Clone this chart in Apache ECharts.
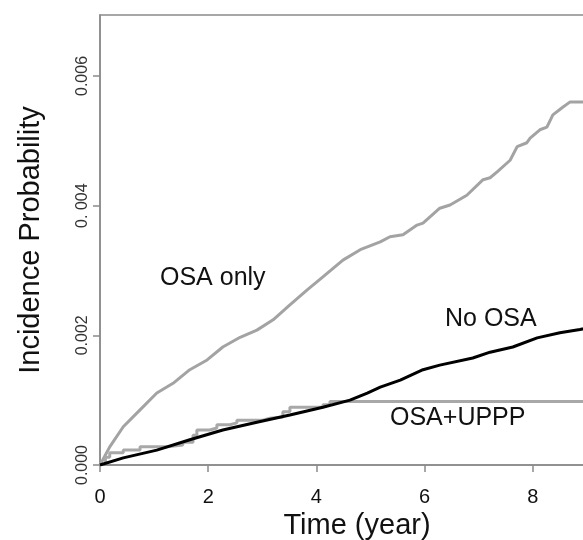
<!DOCTYPE html>
<html>
<head>
<meta charset="utf-8">
<script src="https://cdn.jsdelivr.net/npm/echarts@6/dist/echarts.min.js"></script>
<style>
html,body{margin:0;padding:0;background:#fff;}
#chart{width:583px;height:540px;}
</style>
</head>
<body>
<div id="chart"></div>
<script>
// ---- data ----
var osaOnlyTime = [0,0.03,0.18,0.43,0.74,1.05,1.35,1.66,1.98,2.27,2.59,2.90,3.20,3.51,3.83,4.12,4.49,4.81,5.18,5.36,5.60,5.86,5.97,6.28,6.47,6.78,7.08,7.21,7.34,7.58,7.71,7.89,7.95,8.13,8.26,8.37,8.54,8.69,9.30];
var osaOnlyProb = [0,0.00003,0.00028,0.00059,0.00085,0.00111,0.00126,0.00147,0.00162,0.00182,0.00197,0.00208,0.00224,0.00247,0.00270,0.00290,0.00316,0.00332,0.00344,0.00352,0.00355,0.00370,0.00373,0.00396,0.00401,0.00416,0.00440,0.00443,0.00452,0.00470,0.00491,0.00497,0.00504,0.00517,0.00521,0.00540,0.00551,0.00560,0.00560];

var noOsaTime = [0,0.43,1.05,1.66,2.27,2.90,3.51,4.12,4.62,4.94,5.18,5.55,5.97,6.28,6.89,7.21,7.63,8.08,8.50,8.87,9.30];
var noOsaProb = [0,0.00011,0.00023,0.00039,0.00054,0.00066,0.00077,0.00089,0.00100,0.00111,0.00120,0.00131,0.00147,0.00154,0.00165,0.00174,0.00182,0.00196,0.00204,0.00209,0.00216];

var upppTime = [0,0.03,0.10,0.18,0.43,0.74,1.24,1.53,1.72,1.79,2.03,2.16,2.40,2.53,3.01,3.14,3.38,3.51,4.12,4.25,9.30];
var upppProb = [0,0.00003,0.00012,0.00019,0.00023,0.00028,0.00031,0.00035,0.00046,0.00054,0.00057,0.00062,0.00065,0.00069,0.00072,0.00074,0.00082,0.00089,0.00093,0.00098,0.00098];

var xTickValues = [0,2,4,6,8];
var xTickLabels = ['0','2','4','6','8'];
var yTickValues = [0,0.002,0.004,0.006];
var yTickLabels = ['0.000','0.002','0. 004','0.006'];

var seriesNames = ['OSA only','No OSA','OSA+UPPP'];
var xTitle = 'Time (year)';
var yTitle = 'Incidence Probability';

function zip(a,b){ var r=[]; for(var i=0;i<a.length;i++){ r.push([a[i],b[i]]); } return r; }
function lookup(vals, labels, v){
  for (var i=0;i<vals.length;i++){ if (Math.abs(vals[i]-v) < 1e-9) return labels[i]; }
  return '';
}

var chart = echarts.init(document.getElementById('chart'), null, {renderer:'canvas'});
var axisGray = '#8a8a8a';
var font = 'Liberation Sans, Arial, Helvetica, sans-serif';

var option = {
  animation:false,
  backgroundColor:'#ffffff',
  grid:{left:100, top:15, width:514, height:450, outerBoundsMode:'none', containLabel:false,
    show:true, borderColor:axisGray, borderWidth:1.5, backgroundColor:'transparent'},
  xAxis:{
    type:'value', min:0, max:9.5,
    name:xTitle, nameLocation:'middle', nameGap:44,
    nameTextStyle:{fontFamily:font, fontSize:29, color:'#111'},
    axisLine:{show:true, lineStyle:{color:axisGray, width:1.5}},
    axisTick:{show:true, inside:false, length:7, lineStyle:{color:axisGray, width:1.5}, customValues:xTickValues},
    axisLabel:{show:true, margin:22, fontFamily:font, fontSize:20, color:'#111', customValues:xTickValues,
      formatter:function(v){ return lookup(xTickValues,xTickLabels,v); }},
    splitLine:{show:false}
  },
  yAxis:{
    type:'value', min:0, max:0.00694,
    name:yTitle, nameLocation:'middle', nameGap:55,
    nameTextStyle:{fontFamily:font, fontSize:29, color:'#111'},
    axisLine:{show:true, lineStyle:{color:axisGray, width:1.5}},
    axisTick:{show:true, inside:false, length:7, lineStyle:{color:axisGray, width:1.5}, customValues:yTickValues},
    axisLabel:{show:true, rotate:90, margin:9, fontFamily:font, fontSize:16, color:'#333', customValues:yTickValues,
      formatter:function(v){ return lookup(yTickValues,yTickLabels,v); }},
    splitLine:{show:false}
  },
  series:[
    {name:seriesNames[0], type:'line', data:zip(osaOnlyTime,osaOnlyProb), showSymbol:false, symbol:'none',
      lineStyle:{color:'#a3a3a3', width:3}, z:3},
    {name:seriesNames[2], type:'line', step:'end', data:zip(upppTime,upppProb), showSymbol:false, symbol:'none',
      lineStyle:{color:'#a8a8a8', width:3}, z:3},
    {name:seriesNames[1], type:'line', data:zip(noOsaTime,noOsaProb), showSymbol:false, symbol:'none',
      lineStyle:{color:'#000000', width:3}, z:4}
  ],
  graphic:[
    {type:'text', left:160, top:266, style:{text:seriesNames[0], font:'25px '+font, fill:'#111'}},
    {type:'text', left:445, top:307, style:{text:seriesNames[1], font:'25px '+font, fill:'#111'}},
    {type:'text', left:390, top:406, style:{text:seriesNames[2], font:'25px '+font, fill:'#111'}}
  ]
};
chart.setOption(option);
</script>
</body>
</html>
